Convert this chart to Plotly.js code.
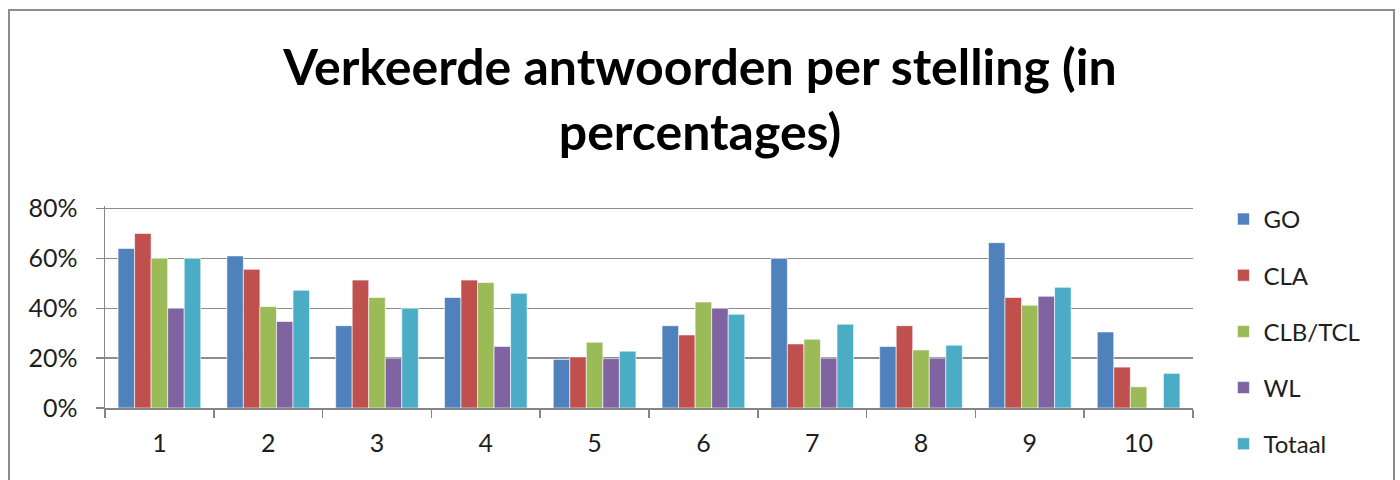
<!DOCTYPE html>
<html>
<head>
<meta charset="utf-8">
<script src="https://cdn.plot.ly/plotly-3.0.1.min.js"></script>
<style>
html,body{margin:0;padding:0;background:#fff;}
#wrap{position:relative;width:1400px;height:480px;overflow:hidden;}
#chart{width:1400px;height:480px;}
#border{position:absolute;left:8px;top:9px;width:1383px;height:500px;border:2px solid #8c8c8c;pointer-events:none;}
</style>
</head>
<body>
<div id="wrap"><div id="chart"></div><div id="border"></div></div>
<script>
var categories = ['1','2','3','4','5','6','7','8','9','10'];
var seriesNames = ['GO','CLA','CLB/TCL','WL','Totaal'];
var GO      = [64, 61, 33, 44.3, 19.5, 33, 60, 24.7, 66.3, 30.5];
var CLA     = [70, 55.6, 51.3, 51.3, 20.5, 29.3, 25.7, 33, 44.3, 16.4];
var CLB_TCL = [60, 40.7, 44.3, 50.3, 26.4, 42.5, 27.6, 23.3, 41.2, 8.5];
var WL      = [40, 34.7, 20, 24.7, 19.8, 40, 20, 20, 44.8, 0];
var Totaal  = [60, 47.2, 40, 46, 22.8, 37.6, 33.6, 25.2, 48.4, 13.9];
var yTicks = [0, 20, 40, 60, 80];
var yTickLabels = ['0%', '20%', '40%', '60%', '80%'];

var colors = ['#4F81BD','#C0504D','#9BBB59','#8064A2','#4BACC6'];
var values = [GO, CLA, CLB_TCL, WL, Totaal];
var font = 'Lato, "Open Sans", sans-serif';
var txt = '#1e1e1e';

var traces = seriesNames.map(function(n, i){
  return {
    type:'bar', name:n, x:categories, y:values[i],
    marker:{color:colors[i], line:{color:'rgba(255,255,255,0.6)', width:1}},
    legendgroup:'g'+i, hoverinfo:'y'
  };
});

var layout = {
  width:1400, height:480,
  margin:{l:105, r:207, t:205.5, b:72},
  paper_bgcolor:'#fff', plot_bgcolor:'#fff',
  barmode:'group', bargap:0.24, bargroupgap:0,
  title:{text:'Verkeerde antwoorden per stelling (in<br>percentages)',
    font:{family:font, size:50, color:'#000', weight:'bold'},
    x:0.5, xref:'container', xanchor:'center', y:0.822, yref:'container', yanchor:'top'},
  xaxis:{type:'category', tickson:'boundaries', ticks:'outside', ticklen:8, tickcolor:'#868686', tickwidth:1.5,
    showline:true, linecolor:'#868686', linewidth:1.5, showgrid:false, ticklabelstandoff:12,
    tickfont:{family:font, size:25, color:txt}, automargin:false},
  yaxis:{range:[0,81], tickmode:'array', tickvals:yTicks, ticktext:yTickLabels, ticks:'outside', ticklen:8, tickcolor:'#868686', tickwidth:1.5,
    showline:true, linecolor:'#868686', linewidth:1.5, showgrid:true, gridcolor:'#8c8c8c', gridwidth:1.5,
    ticklabelstandoff:13,
    zeroline:false, tickfont:{family:font, size:25, color:txt}, automargin:false},
  legend:{x:1.028, xanchor:'left', y:1.045, yanchor:'top', traceorder:'grouped', tracegroupgap:22, maxheight:1000,
    font:{family:font, size:24, color:txt}, bgcolor:'rgba(0,0,0,0)'},
  showlegend:true
};

Plotly.newPlot('chart', traces, layout, {displayModeBar:false, staticPlot:true});
</script>
</body>
</html>
